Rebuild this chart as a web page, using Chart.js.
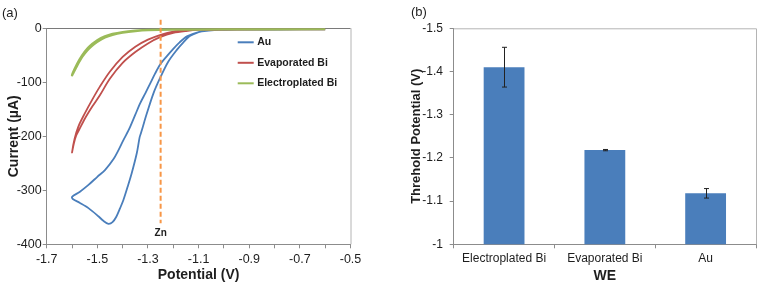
<!DOCTYPE html>
<html><head><meta charset="utf-8">
<script src="https://cdn.jsdelivr.net/npm/chart.js@4.4.1/dist/chart.umd.min.js"></script>
<style>
html,body{margin:0;padding:0;background:#fff;}
#wrap{position:relative;width:762px;height:289px;overflow:hidden;}
#c1{position:absolute;left:0;top:0;}
#c2{position:absolute;left:380px;top:0;}
</style></head><body>
<div id="wrap"><canvas id="c1" width="380" height="289" style="width:380px;height:289px"></canvas><canvas id="c2" width="382" height="289" style="width:382px;height:289px"></canvas></div>
<script>
// ---------- Panel (a) data ----------
const auPotential = [-0.6,-0.8,-0.95,-1.02,-1.06,-1.1,-1.146,-1.175,-1.2,-1.226,-1.252,-1.272,-1.291,-1.31,-1.331,-1.35,-1.37,-1.378,-1.397,-1.417,-1.436,-1.469,-1.5,-1.535,-1.57,-1.6,
  -1.597,-1.57,-1.535,-1.496,-1.475,-1.456,-1.44,-1.425,-1.41,-1.397,-1.38,-1.364,-1.344,-1.333,-1.327,-1.315,-1.304,-1.278,-1.252,-1.22,-1.186,-1.16,-1.133,-1.1,-1.07,-1.0,-0.8,-0.6];
const auCurrent = [-2,-2,-2.3,-3,-4.5,-7,-15,-26,-38,-52,-67,-84,-102,-120,-139,-160,-182,-190,-207,-226,-242,-262,-275,-290,-303,-312,
  -316,-323,-333,-348,-357,-362,-359,-349,-333,-318,-293,-268,-231,-202,-193,-174,-157,-120,-92,-62,-40,-26,-14,-7,-3.5,-2.5,-2.2,-2];
const evapPotential = [-0.6,-0.9,-1.05,-1.15,-1.2,-1.25,-1.3,-1.35,-1.4,-1.45,-1.49,-1.52,-1.55,-1.575,-1.59,-1.6,
  -1.592,-1.583,-1.572,-1.55,-1.52,-1.49,-1.45,-1.4,-1.35,-1.3,-1.25,-1.2,-1.15,-1.1,-1.0,-0.6];
const evapCurrent = [-2,-2,-2.5,-4,-6,-12,-21,-34,-53,-80,-108,-132,-158,-182,-205,-230,
  -212,-198,-188,-168,-145,-124,-93,-64,-44,-28,-16,-8.5,-5,-3,-2.3,-2];
const elecPotential = [-0.6,-1.0,-1.2,-1.3,-1.35,-1.4,-1.44,-1.47,-1.5,-1.52,-1.54,-1.56,-1.58,-1.6,
  -1.58,-1.56,-1.54,-1.52,-1.5,-1.47,-1.44,-1.4,-1.35,-1.3,-1.2,-1.0,-0.6];
const elecCurrent = [-1.5,-1.8,-2.2,-3,-4.5,-7,-10.5,-15,-22,-29,-38,-50,-66,-87,
  -69,-53,-41,-32,-25,-17,-12,-8,-5,-3.3,-2.4,-2,-1.8];
const znPotential = -1.25;
const znCurrentRange = [16, -361];
const znLabelCurrent = -380;
const seriesLabels = ['Au','Evaporated Bi','Electroplated Bi'];

// ---------- Panel (b) data ----------
const weCategories = ['Electroplated Bi','Evaporated Bi','Au'];
const thresholdValues = [-1.41, -1.218, -1.118];
const thresholdErrors = [0.046, 0.0015, 0.011];

const FAM = '"Liberation Sans", Arial, Helvetica, sans-serif';
const TXT = '#1e1e1e';
const AXC = '#8c8c8c';
const BLUE = '#4a7ebb', RED = '#c0504d', GREEN = '#9bbb59', ORANGE = '#f79646';

function zip(xs, ys){ return xs.map((x,i)=>({x:x, y:ys[i]})); }

const frame1 = {
  id:'frame1',
  beforeDatasetsDraw(chart){
    const {ctx, chartArea:a} = chart;
    ctx.save();
    ctx.strokeStyle = '#b4b4b4'; ctx.lineWidth = 1;
    ctx.beginPath();
    ctx.moveTo(a.right+0.5, a.top); ctx.lineTo(a.right+0.5, a.bottom);
    ctx.stroke();
    ctx.strokeStyle = '#7a7a7a';
    const y0 = Math.round(chart.scales.y.getPixelForValue(0))+0.5;
    ctx.beginPath(); ctx.moveTo(a.left, y0); ctx.lineTo(a.right, y0); ctx.stroke();
    ctx.restore();
  },
  afterDraw(chart){
    const {ctx, chartArea:a, scales} = chart;
    ctx.save();
    const cols = [BLUE, RED, GREEN];
    ctx.font = 'bold 10.5px ' + FAM;
    ctx.textBaseline = 'middle'; ctx.textAlign = 'left';
    seriesLabels.forEach((lab,i)=>{
      const y = a.top + 14 + i*20.5;
      ctx.strokeStyle = cols[i]; ctx.lineWidth = 2;
      ctx.beginPath(); ctx.moveTo(a.left+191, y); ctx.lineTo(a.left+207, y); ctx.stroke();
      ctx.fillStyle = TXT; ctx.fillText(lab, a.left+210.5, y);
    });
    ctx.font = 'bold 10px ' + FAM; ctx.textAlign = 'center';
    ctx.fillText('Zn', scales.x.getPixelForValue(znPotential), scales.y.getPixelForValue(znLabelCurrent));
    ctx.font = '13px ' + FAM; ctx.textAlign = 'left';
    ctx.fillText('(a)', 2, 13);
    ctx.restore();
  }
};

new Chart(document.getElementById('c1'), {
  type:'scatter',
  data:{datasets:[
    {label:'Zn', data:[{x:znPotential,y:znCurrentRange[0]},{x:znPotential,y:znCurrentRange[1]}], showLine:true, borderColor:ORANGE, borderWidth:2, borderDash:[5,3], clip:false, tension:0, order:0},
    {label:seriesLabels[2], data:zip(elecPotential, elecCurrent), showLine:true, borderColor:GREEN, borderWidth:2.4, tension:0.3, order:1},
    {label:seriesLabels[1], data:zip(evapPotential, evapCurrent), showLine:true, borderColor:RED, borderWidth:1.8, tension:0.3, order:2},
    {label:seriesLabels[0], data:zip(auPotential, auCurrent), showLine:true, borderColor:BLUE, borderWidth:1.8, tension:0.3, order:3}
  ]},
  options:{
    responsive:false, animation:false, devicePixelRatio:1,
    layout:{padding:{left:0, right:29.5, top:28.3, bottom:0}},
    plugins:{legend:{display:false}, tooltip:{enabled:false}},
    elements:{point:{radius:0}},
    scales:{
      x:{type:'linear', min:-1.7, max:-0.5,
        ticks:{stepSize:0.1, autoSkip:false, maxRotation:0, padding:3.5, color:TXT, font:{size:12.5, family:FAM},
          callback:(v)=>{const r=Math.round(v*10); return (r%2!==0)?(r/10).toFixed(1):'';}},
        grid:{drawOnChartArea:false, tickLength:4, color:AXC},
        border:{color:AXC},
        title:{display:true, text:'Potential (V)', color:TXT, font:{size:14, weight:'bold', family:FAM}, padding:{top:0, bottom:5}},
        afterFit(s){ s.height = 44.7; }
      },
      y:{type:'linear', min:-400, max:0,
        ticks:{stepSize:100, padding:1, color:TXT, font:{size:12.5, family:FAM}},
        grid:{drawOnChartArea:false, tickLength:4, color:AXC},
        border:{color:AXC},
        title:{display:true, text:'Current (µA)', color:TXT, font:{size:14, weight:'bold', family:FAM}, padding:{top:6, bottom:0}},
        afterFit(s){ s.width = 46.7; }
      }
    }
  },
  plugins:[frame1]
});

const frame2 = {
  id:'frame2',
  beforeDatasetsDraw(chart){
    const {ctx, chartArea:a} = chart;
    ctx.save();
    ctx.strokeStyle = '#b4b4b4'; ctx.lineWidth = 1;
    ctx.beginPath();
    ctx.moveTo(a.left, a.top+0.5); ctx.lineTo(a.right+0.5, a.top+0.5); ctx.lineTo(a.right+0.5, a.bottom);
    ctx.stroke();
    ctx.restore();
  },
  afterDatasetsDraw(chart){
    const {ctx, scales} = chart;
    const meta = chart.getDatasetMeta(0);
    ctx.save();
    ctx.strokeStyle = '#222'; ctx.lineWidth = 1;
    meta.data.forEach((bar,i)=>{
      const v = thresholdValues[i], e = thresholdErrors[i];
      const x = Math.round(bar.x)+0.5;
      const y1 = scales.y.getPixelForValue(v - e), y2 = scales.y.getPixelForValue(v + e);
      ctx.beginPath();
      ctx.moveTo(x, y1); ctx.lineTo(x, y2);
      ctx.moveTo(x-2.5, y1); ctx.lineTo(x+2.5, y1);
      ctx.moveTo(x-2.5, y2); ctx.lineTo(x+2.5, y2);
      ctx.stroke();
    });
    ctx.restore();
  },
  afterDraw(chart){
    const ctx = chart.ctx;
    ctx.save();
    ctx.font = '13px ' + FAM; ctx.fillStyle = TXT; ctx.textBaseline='middle';
    ctx.fillText('(b)', 31, 12);
    ctx.restore();
  }
};

new Chart(document.getElementById('c2'), {
  type:'bar',
  data:{labels:weCategories, datasets:[{data:thresholdValues, backgroundColor:BLUE, barPercentage:0.45, categoryPercentage:0.9}]},
  options:{
    responsive:false, animation:false, devicePixelRatio:1,
    layout:{padding:{left:0, right:6, top:28.3, bottom:0}},
    plugins:{legend:{display:false}, tooltip:{enabled:false}},
    scales:{
      x:{
        ticks:{padding:3.5, color:TXT, font:{size:12, family:FAM}, maxRotation:0},
        grid:{drawOnChartArea:false, offset:true, tickLength:4, color:AXC},
        border:{color:AXC},
        title:{display:true, text:'WE', color:TXT, font:{size:14, weight:'bold', family:FAM}, padding:{top:0, bottom:4}},
        afterFit(s){ s.height = 44.7; }
      },
      y:{type:'linear', reverse:true, min:-1.5, max:-1, beginAtZero:false,
        ticks:{stepSize:0.1, padding:6.7, color:TXT, font:{size:12, family:FAM}, callback:(v)=>String(Math.round(v*10)/10)},
        grid:{drawOnChartArea:false, tickLength:4, color:AXC},
        border:{color:AXC},
        title:{display:true, text:'Threhold Potential (V)', color:TXT, font:{size:13, weight:'bold', family:FAM}, padding:{top:29, bottom:0}},
        afterFit(s){ s.width = 73.7; }
      }
    }
  },
  plugins:[frame2]
});
</script>
</body></html>
